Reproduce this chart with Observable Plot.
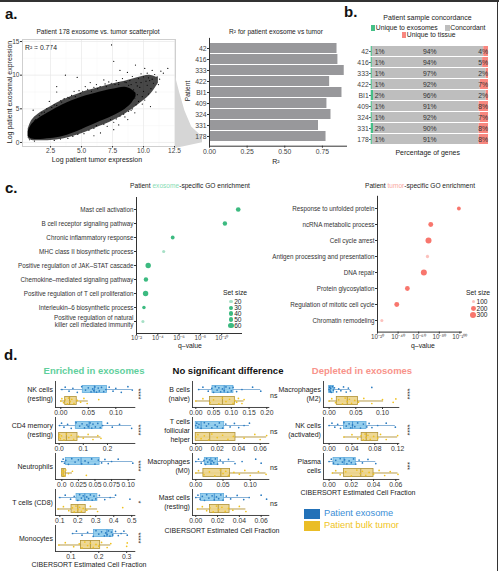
<!DOCTYPE html>
<html><head><meta charset="utf-8">
<script src="https://cdn.jsdelivr.net/npm/d3@7"></script>
<script src="https://cdn.jsdelivr.net/npm/@observablehq/plot@0.6"></script>
<style>
body{margin:0;background:#fff;}
#root{position:relative;width:499px;height:571px;overflow:hidden;font-family:"Liberation Sans",Arial,sans-serif;color:#222;background:#fff;}
.t{position:absolute;white-space:nowrap;line-height:1;}
#root svg{position:absolute;overflow:visible;}
</style></head><body><div id="root"></div>
<script>
// ================= DATA =================
// Panel a: scatter (dense core band, medium-density band, individual points)
const cloudX  = [0.7, 1.0, 1.5, 2.5, 3.5, 5.0, 6.5, 7.5, 8.5, 9.0, 9.4];
const cloudLo = [0.9, 0.5, 0.45, 0.6, 0.9, 1.9, 3.1, 3.9, 4.9, 5.7, 6.8];
const cloudHi = [1.6, 2.7, 3.5, 4.6, 5.6, 6.7, 7.5, 7.9, 8.2, 7.9, 7.3];
const haloX  = [0.7, 1.0, 1.5, 2.5, 3.5, 5.0, 6.5, 7.5, 8.5, 9.5, 10.5, 11.2];
const haloLo = [0.6, 0.3, 0.25, 0.3, 0.5, 1.3, 2.4, 3.2, 4.2, 5.5, 7.0, 8.8];
const haloHi = [2.0, 3.3, 4.2, 5.3, 6.3, 7.4, 8.2, 8.7, 9.1, 9.6, 10.0, 9.6];
const scatterPts = [
 [1.1,4.8],[1.3,3.4],[1.8,4.4],[2.2,5.0],[2.4,6.1],[2.8,5.6],[3.0,7.5],[3.0,8.3],[3.3,6.2],[3.6,6.5],
 [3.7,10.0],[3.9,6.7],[4.2,7.0],[4.4,7.6],[4.65,9.66],[4.8,7.7],[5.1,7.6],[5.3,8.3],[5.7,8.9],[5.5,7.9],
 [6.0,8.2],[6.2,8.6],[6.5,8.3],[6.8,9.3],[6.9,8.7],[7.2,9.0],[7.4,8.8],[7.42,14.5],[7.6,12.06],[7.8,9.2],
 [8.1,10.7],[8.0,8.9],[8.3,9.5],[8.5,9.0],[8.7,10.4],[8.9,9.2],[9.1,9.8],[9.35,11.5],[9.4,8.9],[9.6,9.5],
 [9.8,10.2],[10.0,9.75],[10.1,11.0],[10.3,10.3],[10.5,9.2],[10.7,10.7],[10.9,10.1],[11.1,9.75],[11.4,10.6],[11.96,11.0],
 [11.6,10.3],[9.2,7.8],[9.3,6.6],[9.5,7.1],[9.7,8.2],[9.9,6.8],[10.0,7.6],[10.1,6.3],[10.3,8.5],[10.4,7.2],
 [10.56,5.34],[10.6,8.0],[10.8,8.8],[11.0,7.5],[11.2,8.6],[9.4,5.6],[9.6,6.1],[9.1,5.0],[9.9,5.7],[10.2,9.1],
 [9.0,8.6],[9.5,8.4],[10.7,9.4],[5.2,1.3],[5.6,1.8],[6.0,2.1],[6.2,2.5],[6.53,1.42],[6.8,2.7],[7.07,2.4],
 [7.34,3.4],[7.6,3.0],[7.8,3.5],[8.1,3.9],[8.4,4.2],[8.73,3.4],[8.8,4.6],[9.0,4.8],[6.0,1.0],[7.6,1.9],
 [8.0,2.6],[4.3,0.9],[4.7,1.2],[3.9,0.6],[3.3,0.5],[2.8,0.3],[9.3,4.4],[8.5,3.8],[1.2,3.2],[2.0,4.5],
 [3.0,5.5],[4.0,6.6],[4.5,6.8],[5.8,7.6],[7.0,8.3],[8.0,8.6],[8.8,8.5],[9.2,7.2],[0.8,0.4],[1.2,0.2],
 [1.6,4.0],[2.6,5.2],[3.4,6.0],[4.9,7.3],[6.3,8.0],[7.7,8.6],[8.6,8.9],[9.8,8.9],[10.4,9.6],[11.3,9.4]
];
const r2Patients = ["42","416","333","422","BI1","409","324","331","178"];
const r2Values   = [0.847, 0.853, 0.895, 0.798, 0.88, 0.78, 0.807, 0.724, 0.774];

// Panel b
const bPatients = ["42","416","333","422","BI1","409","324","331","178"];
const uniqueExo  = [1,1,1,1,2,1,1,2,1];
const concordant = [94,94,97,92,96,91,92,90,91];
const uniqueTis  = [4,5,2,7,2,8,7,8,8];

// Panel c
const exoTerms = ["Mast cell activation","B cell receptor signaling pathway","Chronic inflammatory response",
 "MHC class II biosynthetic process","Positive regulation of JAK\u2013STAT cascade","Chemokine\u2013mediated signaling pathway",
 "Positive regulation of T cell proliferation","Interleukin\u20136 biosynthetic process",
 "Positive regulation of natural\nkiller cell mediated immunity"];
const exoQ    = [2.8e-12, 5e-11, 4e-6, 2.8e-5, 8e-4, 1.3e-3, 1.4e-3, 2e-3, 2.5e-3];
const exoSize = [45, 40, 30, 20, 60, 40, 60, 25, 20];
const tumTerms = ["Response to unfolded protein","ncRNA metabolic process","Cell cycle arrest",
 "Antigen processing and presentation","DNA repair","Protein glycosylation",
 "Regulation of mitotic cell cycle","Chromatin remodeling"];
const tumQ    = [1e-99, 2e-72, 3e-70, 3e-69, 1e-65, 1e-49, 2e-39, 6e-25];
const tumSize = [120, 200, 300, 90, 300, 190, 200, 80];

// Panel d
const cellLabels = ["NK cells<br>(resting)","CD4 memory<br>(resting)","Neutrophils","T cells (CD8)","Monocytes",
 "B cells<br>(naive)","T cells<br>follicular<br>helper","Macrophages<br>(M0)","Mast cells<br>(resting)",
 "Macrophages<br>(M2)","NK cells<br>(activated)","Plasma<br>cells"];
const signif = ["****","****","****","*","****","ns","ns","ns","ns","****","****","***"];
// [lower whisker, q1, median, q3, upper whisker]
const exoBox = [[0,0.04,0.061,0.084,0.13],[0,0.069,0.124,0.179,0.30],[0,0.006,0.029,0.057,0.107],
 [0.096,0.193,0.239,0.309,0.41],[0.106,0.183,0.229,0.252,0.302],[0.008,0.047,0.08,0.106,0.183],
 [0,0,0.005,0.0265,0.05],[0,0.0166,0.0276,0.041,0.072],[0,0.0046,0.017,0.026,0.049],
 [0,0,0.002,0.009,0.04],[0,0.026,0.041,0.0655,0.116],[0,0.004,0.0135,0.024,0.042]];
const tumBox = [[0,0.008,0.016,0.029,0.05],[0,0,0.03,0.076,0.173],[0,0.0005,0.002,0.006,0.016],
 [0.09,0.165,0.2,0.244,0.31],[0.057,0.136,0.17,0.205,0.243],[0,0.04,0.075,0.11,0.136],
 [0,0,0.013,0.037,0.066],[0,0.014,0.046,0.063,0.129],[0.0015,0.013,0.0206,0.031,0.046],
 [0,0.0144,0.034,0.054,0.102],[0.026,0.057,0.065,0.086,0.12],[0.003,0.0135,0.0285,0.04,0.062]];
const exoPts = [
 [0.002,0.008,0.015,0.022,0.03,0.038,0.045,0.05,0.055,0.058,0.06,0.062,0.065,0.068,0.07,0.074,0.078,0.082,0.088,0.095,0.1,0.11,0.122,0.13],
 [0.002,0.01,0.02,0.035,0.05,0.07,0.085,0.095,0.105,0.115,0.12,0.128,0.135,0.14,0.15,0.16,0.17,0.18,0.2,0.22,0.25,0.3],
 [0,0.002,0.004,0.006,0.01,0.015,0.02,0.025,0.03,0.035,0.04,0.045,0.05,0.055,0.06,0.065,0.07,0.075,0.085,0.107],
 [0.1,0.13,0.16,0.18,0.2,0.21,0.22,0.23,0.24,0.25,0.26,0.27,0.28,0.29,0.3,0.32,0.35,0.38,0.41,0.49],
 [0.106,0.12,0.14,0.16,0.18,0.19,0.2,0.21,0.22,0.225,0.23,0.235,0.24,0.245,0.25,0.26,0.27,0.28,0.29,0.302],
 [0.008,0.02,0.035,0.045,0.05,0.055,0.06,0.065,0.07,0.075,0.08,0.085,0.09,0.095,0.1,0.105,0.115,0.13,0.16,0.183],
 [0,0.001,0.002,0.003,0.005,0.008,0.01,0.012,0.015,0.018,0.02,0.022,0.025,0.028,0.032,0.036,0.04,0.045,0.05],
 [0,0.005,0.01,0.015,0.018,0.02,0.022,0.025,0.028,0.03,0.033,0.036,0.04,0.045,0.05,0.06,0.072,0.085,0.11,0.12],
 [0,0.002,0.004,0.006,0.008,0.01,0.012,0.015,0.017,0.019,0.021,0.023,0.025,0.028,0.032,0.038,0.044,0.049,0.06,0.065],
 [0,0.001,0.002,0.003,0.004,0.006,0.008,0.01,0.014,0.018,0.022,0.027,0.032,0.036,0.04,0.08],
 [0,0.005,0.01,0.015,0.02,0.026,0.03,0.035,0.038,0.041,0.045,0.05,0.055,0.06,0.066,0.07,0.075,0.085,0.1,0.116],
 [0,0.002,0.004,0.006,0.008,0.01,0.012,0.014,0.016,0.018,0.02,0.022,0.024,0.027,0.03,0.035,0.042]];
const tumPts = [
 [0,0.002,0.005,0.008,0.012,0.014,0.017,0.02,0.024,0.03,0.036,0.042,0.048,0.069],
 [0,0.002,0.005,0.01,0.02,0.03,0.04,0.05,0.06,0.08,0.1,0.12,0.14,0.16,0.173],
 [0,0.001,0.002,0.003,0.004,0.006,0.01,0.016,0.037],
 [0.09,0.12,0.15,0.17,0.18,0.19,0.2,0.21,0.22,0.23,0.25,0.27,0.31,0.45],
 [0.057,0.08,0.11,0.13,0.14,0.15,0.16,0.17,0.18,0.19,0.2,0.21,0.23,0.243,0.3,0.302],
 [0,0.02,0.04,0.05,0.065,0.075,0.085,0.095,0.105,0.11,0.115,0.12,0.13,0.136],
 [0,0.002,0.005,0.008,0.012,0.015,0.02,0.025,0.03,0.035,0.045,0.055,0.06,0.066],
 [0,0.005,0.015,0.025,0.035,0.045,0.05,0.055,0.06,0.07,0.08,0.09,0.1,0.115,0.129],
 [0.0015,0.006,0.01,0.013,0.016,0.019,0.021,0.024,0.027,0.03,0.034,0.04,0.046],
 [0,0.005,0.012,0.018,0.025,0.03,0.034,0.038,0.042,0.048,0.055,0.065,0.08,0.1,0.12,0.125],
 [0.026,0.04,0.05,0.056,0.06,0.063,0.065,0.068,0.072,0.078,0.085,0.09,0.1,0.12],
 [0.003,0.006,0.01,0.015,0.02,0.025,0.028,0.03,0.033,0.036,0.04,0.045,0.05,0.055,0.062]];
const xTicks = [[0,0.05,0.1],[0,0.1,0.2],[0,0.025,0.05,0.075,0.1],[0.1,0.2,0.3,0.4,0.5],[0.1,0.2,0.3],
 [0,0.05,0.1,0.15,0.2],[0,0.02,0.04,0.06],[0,0.05,0.1],[0,0.02,0.04,0.06],
 [0,0.05,0.1],[0,0.04,0.08,0.12],[0,0.02,0.04,0.06]];
const xTickLabels = [["0.00","0.05","0.10"],["0.0","0.1","0.2"],["0.0","0.025","0.05","0.075","0.10"],
 ["0.1","0.2","0.3","0.4","0.5"],["0.1","0.2","0.3"],["0.00","0.05","0.10","0.15","0.20"],
 ["0.00","0.02","0.04","0.06"],["0.00","0.05","0.10"],["0.00","0.02","0.04","0.06"],
 ["0.00","0.05","0.10"],["0.00","0.04","0.08","0.12"],["0.00","0.02","0.04","0.06"]];
const xDomains = [[-0.0096,0.1345],[-0.015,0.313],[-0.0095,0.110],[0.076,0.517],[0.045,0.329],
 [-0.0093,0.2056],[-0.003,0.068],[-0.006,0.134],[-0.003,0.067],
 [-0.0105,0.1305],[-0.0098,0.122],[-0.005,0.0627]];

// ================= HELPERS =================
const root = document.getElementById("root");
const FONT = "'Liberation Sans', Arial, sans-serif";
function place(svg, left, top) { svg.style.left = left + "px"; svg.style.top = top + "px"; root.appendChild(svg); return svg; }
function T(html, x, y, o = {}) {
  const d = document.createElement("div");
  d.className = "t"; d.innerHTML = html;
  d.style.left = x + "px"; d.style.top = y + "px";
  d.style.fontSize = (o.size || 7) + "px";
  d.style.color = o.color || "#222";
  if (o.bold) d.style.fontWeight = "bold";
  if (o.lh) d.style.lineHeight = o.lh + "px";
  if (o.align) d.style.textAlign = o.align;
  const ax = o.anchor === "start" ? "0" : o.anchor === "end" ? "-100%" : "-50%";
  d.style.transform = `translate(${ax},-50%)` + (o.rotate ? ` rotate(${o.rotate}deg)` : "");
  root.appendChild(d); return d;
}
function box(x, y, w, h, color, extra = {}) {
  const d = document.createElement("div");
  Object.assign(d.style, {position: "absolute", left: x + "px", top: y + "px", width: w + "px", height: h + "px", background: color}, extra);
  root.appendChild(d); return d;
}
const baseStyle = (fs) => ({fontFamily: FONT, fontSize: fs + "px", color: "#333", background: "transparent", overflow: "visible"});
const sup = {"-": "\u207B", "0": "\u2070", "1": "\u00B9", "2": "\u00B2", "3": "\u00B3", "4": "\u2074", "5": "\u2075", "6": "\u2076", "7": "\u2077", "8": "\u2078", "9": "\u2079"};
const pow10 = (d) => "10" + String(Math.round(Math.log10(d))).split("").map(c => sup[c]).join("");

// frame lines of the figure
box(0, 0, 499, 1.5, "#333");
box(496.5, 0, 1.5, 571, "#333");

// ================= PANEL a =================
T("a.", 5, 13, {size: 15, bold: true, anchor: "start", color: "#111"});
T("Patient 178 exosome vs. tumor scatterplot", 98, 32, {size: 6.6});
T("R\u00B2 = 0.774", 25, 48, {size: 6.8, anchor: "start"});
T("Log patient tumor expression", 97, 158.5, {size: 7});
T("Log patient exosomal expression", 9, 92, {size: 7, rotate: -90});

const cloud = cloudX.map((x, i) => ({x, lo: cloudLo[i], hi: cloudHi[i]}));
const halo = haloX.map((x, i) => ({x, lo: haloLo[i], hi: haloHi[i]}));
place(Plot.plot({
  width: 180, height: 140, marginLeft: 22, marginRight: 5, marginTop: 14, marginBottom: 19,
  style: baseStyle(6.6),
  x: {domain: [0.24, 12.58], label: null},
  y: {domain: [-0.6, 15.3], label: null},
  marks: [
    Plot.ruleX([1.25, 3.75, 6.25, 8.75, 11.25], {stroke: "#f4f4f4", strokeWidth: 0.5}),
    Plot.ruleY([2.5, 7.5, 12.5], {stroke: "#f4f4f4", strokeWidth: 0.5}),
    Plot.ruleX([2.5, 5, 7.5, 10, 12.5], {stroke: "#e8e8e8", strokeWidth: 0.7}),
    Plot.ruleY([0, 5, 10, 15], {stroke: "#e8e8e8", strokeWidth: 0.7}),
    Plot.areaY(halo, {x: "x", y1: "lo", y2: "hi", fill: "#000", fillOpacity: 0.72, curve: "catmull-rom"}),
    Plot.areaY(cloud, {x: "x", y1: "lo", y2: "hi", fill: "#000", curve: "catmull-rom"}),
    Plot.dot(scatterPts, {x: d => d[0], y: d => d[1], r: 0.6, fill: "#000"}),
    Plot.frame({stroke: "#cfcfcf"}),
    Plot.axisX({ticks: [2.5, 5, 7.5, 10, 12.5], tickFormat: d => d.toFixed(1), tickSize: 1.5, tickPadding: 0, label: null, fill: "#444"}),
    Plot.axisY({ticks: [0, 5, 10, 15], tickSize: 2, tickPadding: 1, label: null, fill: "#444"})
  ]
}), 0, 25);

// connecting wedge
box(175, 76, 27, 72, "#d6d6d6", {clipPath: "polygon(0% 0%, 15% 22%, 35% 48%, 60% 70%, 100% 84%, 100% 92%, 0% 100%)"});

T("R\u00B2 for patient exosome vs tumor", 276, 32, {size: 6.6});
T("R\u00B2", 276, 161, {size: 7});
T("Patient", 188, 91, {size: 6.6, rotate: -90});
const r2Data = r2Patients.map((p, i) => ({p, v: r2Values[i]}));
place(Plot.plot({
  width: 166, height: 140, marginLeft: 29, marginRight: 0, marginTop: 12.9, marginBottom: 19.3,
  style: baseStyle(6.8),
  x: {domain: [0, 0.91], label: null},
  y: {domain: r2Patients, padding: 0.08, label: null},
  marks: [
    Plot.barX(r2Data, {x: "v", y: "p", fill: "#98989b"}),
    Plot.frame({anchor: "left", stroke: "#333"}),
    Plot.frame({anchor: "bottom", stroke: "#333"}),
    Plot.axisX({ticks: [0, 0.25, 0.5, 0.75], tickFormat: d => d.toFixed(2), tickSize: 2, tickPadding: 1, label: null, fill: "#444"}),
    Plot.axisY({tickSize: 2, tickPadding: 1, label: null, fill: "#444"})
  ]
}), 180, 25);

// ================= PANEL b =================
T("b.", 344, 11, {size: 15, bold: true, anchor: "start", color: "#111"});
T("Patient sample concordance", 427.5, 17, {size: 7});
box(370.5, 25, 4.5, 5.5, "#45bf87"); T("Unique to exosomes", 375.8, 28, {size: 6.8, anchor: "start"});
box(445, 25, 4.5, 5.5, "#bebebe"); T("Concordant", 450.3, 28, {size: 6.8, anchor: "start"});
box(401.5, 32.2, 4.5, 5.5, "#f8877f"); T("Unique to tissue", 406.8, 35.2, {size: 6.8, anchor: "start"});
T("Percentage of genes", 427.7, 152, {size: 7});
const bLong = [];
bPatients.forEach((p, i) => {
  bLong.push({p, cat: "Unique to exosomes", v: uniqueExo[i]});
  bLong.push({p, cat: "Concordant", v: concordant[i]});
  bLong.push({p, cat: "Unique to tissue", v: uniqueTis[i]});
});
const bRows = bPatients.map((p, i) => ({p, e: uniqueExo[i], c: concordant[i], t: uniqueTis[i]}));
place(Plot.plot({
  width: 159, height: 125, marginLeft: 30.7, marginRight: 11, marginTop: 11.2, marginBottom: 6.8,
  style: baseStyle(6.8),
  x: {domain: [0, 1], axis: null},
  y: {domain: bPatients, padding: 0.1, label: null},
  color: {domain: ["Unique to exosomes", "Concordant", "Unique to tissue"], range: ["#45bf87", "#bebebe", "#f8877f"]},
  marks: [
    Plot.barX(bLong, Plot.stackX({offset: "normalize"}, {x: "v", y: "p", fill: "cat"})),
    Plot.text(bRows, {x: () => 0, y: "p", text: d => d.e + "%", textAnchor: "start", dx: 3.5, fill: "#333"}),
    Plot.text(bRows, {x: () => 0.5, y: "p", text: d => d.c + "%", fill: "#333"}),
    Plot.text(bRows, {x: () => 1, y: "p", text: d => d.t + "%", textAnchor: "end", dx: -0.5, fill: "#333"}),
    Plot.axisY({tickSize: 1.5, tickPadding: 1, label: null, fill: "#444"})
  ]
}), 340, 30);

// ================= PANEL c =================
T("c.", 5, 187, {size: 15, bold: true, anchor: "start", color: "#111"});
T("Patient <span style='color:#86dbb3'>exosome</span>-specific GO enrichment", 190, 186, {size: 6.6});
T("Patient <span style='color:#f8a8a1'>tumor</span>-specific GO enrichment", 420, 186, {size: 6.6});
T("q\u2013value", 190, 346, {size: 6.8});
T("q\u2013value", 423, 345.5, {size: 6.8});

const exoData = exoTerms.map((term, i) => ({term, q: exoQ[i], size: exoSize[i]}));
place(Plot.plot({
  width: 241, height: 155, marginLeft: 136, marginRight: 0, marginTop: 7, marginBottom: 12,
  style: baseStyle(6.3),
  x: {type: "log", domain: [1e-2, Math.pow(10, -11.86)], label: null},
  y: {type: "point", domain: exoTerms, padding: 0.6, label: null},
  r: {domain: [0, 60], range: [0, 2.7]},
  marks: [
    Plot.dot(exoData, {x: "q", y: "term", r: "size", fill: "#3cba80", fillOpacity: d => d.size <= 20 ? 0.45 : 1, stroke: "none"}),
    Plot.frame({anchor: "left", stroke: "#333"}),
    Plot.frame({anchor: "bottom", stroke: "#333"}),
    Plot.axisX({ticks: [1e-2, 1e-4, 1e-6, 1e-8, 1e-10], tickFormat: pow10, tickSize: 2, tickPadding: 0.5, label: null, fill: "#444"}),
    Plot.axisY({tickSize: 2, tickPadding: 1, label: null, fill: "#333", lineHeight: 1})
  ]
}), 0, 190);

const tumData = tumTerms.map((term, i) => ({term, q: tumQ[i], size: tumSize[i]}));
place(Plot.plot({
  width: 211, height: 155, marginLeft: 127, marginRight: 0, marginTop: 5.8, marginBottom: 13.4,
  style: baseStyle(6.3),
  x: {type: "log", domain: [1e-20, Math.pow(10, -101.55)], label: null},
  y: {type: "point", domain: tumTerms, padding: 0.6, label: null},
  r: {domain: [0, 300], range: [0, 3]},
  marks: [
    Plot.dot(tumData, {x: "q", y: "term", r: "size", fill: "#f8766d", fillOpacity: d => d.size <= 100 ? 0.45 : 1, stroke: "none"}),
    Plot.frame({anchor: "left", stroke: "#333"}),
    Plot.frame({anchor: "bottom", stroke: "#333"}),
    Plot.axisX({ticks: [1e-20, 1e-40, 1e-60, 1e-80, 1e-100], tickFormat: pow10, tickSize: 2, tickPadding: 0.5, label: null, fill: "#444"}),
    Plot.axisY({tickSize: 2, tickPadding: 1, label: null, fill: "#333"})
  ]
}), 250, 190);

// size legends
function dotLegend(values, maxV, maxR, color, x, ys, lightMax) {
  values.forEach((v, i) => {
    const r = maxR * Math.sqrt(v / maxV);
    box(x - r, ys[i] - r, 2 * r, 2 * r, color, {borderRadius: "50%", opacity: v <= lightMax ? 0.45 : 1});
    T(String(v), x + 3.2, ys[i] + 0.3, {size: 6.6, anchor: "start"});
  });
}
T("Set size", 235, 293, {size: 6.8});
dotLegend([20, 30, 40, 50, 60], 60, 2.7, "#3cba80", 231, [301.7, 307.7, 313.7, 319.7, 325.7], 20);
T("Set size", 478, 293, {size: 6.8});
dotLegend([100, 200, 300], 300, 3, "#f8766d", 473.3, [301.7, 308.3, 315], 100);

// ================= PANEL d =================
T("d.", 4, 354, {size: 15, bold: true, anchor: "start", color: "#111"});
T("Enriched in exosomes", 94, 371, {size: 9.5, bold: true, color: "#5fcf9c"});
T("No significant difference", 228, 371, {size: 9.5, bold: true, color: "#111"});
T("Depleted in exosomes", 362, 371, {size: 9.5, bold: true, color: "#f8938a"});
T("CIBERSORT Estimated Cell Fraction", 89, 564, {size: 7});
T("CIBERSORT Estimated Cell Fraction", 222, 530, {size: 7});
T("CIBERSORT Estimated Cell Fraction", 358, 492, {size: 7});

const panelCol = [0, 0, 0, 0, 0, 1, 1, 1, 1, 2, 2, 2];
const panelBottom = [406.7, 443, 478.5, 515, 550.5, 406.7, 442.5, 478.5, 514.5, 406.7, 442.5, 478.5];
const colL = [54.7, 191.7, 322.7], colR = [134, 268, 398];
const jit = [0, 0.2, -0.15, 0.1, -0.25, 0.25, -0.05, 0.15, -0.2, 0.05, -0.1, 0.22, -0.22, 0.12, -0.12, 0.18, -0.18];
const FH = 26, mL = 12, mR = 9, mB = 12;

cellLabels.forEach((lab, k) => {
  const c = panelCol[k], L = colL[c], R = colR[c], bottom = panelBottom[k];
  const groups = [
    {row: 1, s: exoBox[k], pts: exoPts[k], fill: "#8ccaeb", stroke: "#62addf", med: "#3a8ccf", dot: "#2a7bc0", whisk: "#7aa9d2", h: 0.31},
    {row: 0, s: tumBox[k], pts: tumPts[k], fill: "#ecd48b", stroke: "#b09235", med: "#b09235", dot: "#f0c21e", whisk: "#b09235", h: 0.35}
  ];
  const marks = [];
  for (const g of groups) {
    const st = {row: g.row, lo: g.s[0], q1: g.s[1], med: g.s[2], q3: g.s[3], hi: g.s[4], b: g.row - g.h, t: g.row + g.h};
    marks.push(Plot.ruleY([st], {y: "row", x1: "lo", x2: "hi", stroke: g.whisk, strokeWidth: 0.9}));
    marks.push(Plot.rect([st], {x1: "q1", x2: "q3", y1: "b", y2: "t", fill: g.fill, fillOpacity: 0.9, stroke: g.stroke, strokeWidth: 0.8}));
    marks.push(Plot.ruleX([st], {x: "med", y1: "b", y2: "t", stroke: g.med, strokeWidth: 0.9}));
    marks.push(Plot.dot(g.pts.map((v, i) => ({v, y: g.row + jit[i % jit.length]})), {x: "v", y: "y", r: 0.85, fill: g.dot, stroke: "none"}));
  }
  marks.push(Plot.frame({anchor: "left", stroke: "#333", strokeWidth: 0.9}));
  marks.push(Plot.frame({anchor: "bottom", stroke: "#333", strokeWidth: 0.9}));
  marks.push(Plot.axisX({ticks: xTicks[k], tickFormat: (d, i) => xTickLabels[k][i], tickSize: 2, tickPadding: 0.5, label: null, fill: "#333"}));
  place(Plot.plot({
    width: (R - L) + mL + mR, height: FH + mB, marginLeft: mL, marginRight: mR, marginTop: 0, marginBottom: mB,
    style: baseStyle(6.8),
    x: {domain: xDomains[k], label: null},
    y: {domain: [-0.565, 1.696], axis: null},
    marks
  }), L - mL, bottom - FH);

  const cy = bottom - 13;
  T(lab, L - 1.8, cy, {size: 7, anchor: "end", align: "right", lh: 9});
  if (signif[k] === "ns") T("ns", R + 2, cy + 1.5, {size: 7, anchor: "start"});
  else T(signif[k], c === 0 ? 138 : 406.5, cy, {size: 7, rotate: 90, color: "#222"});
});

// d legend
box(304, 509, 16, 10, "#2271b8");
T("Patient exosome", 324, 514, {size: 9.3, anchor: "start", color: "#3b8ed6"});
box(304, 521, 16, 10, "#eabd26");
T("Patient bulk tumor", 324, 526, {size: 9.3, anchor: "start", color: "#f0c41c"});
</script></body></html>
